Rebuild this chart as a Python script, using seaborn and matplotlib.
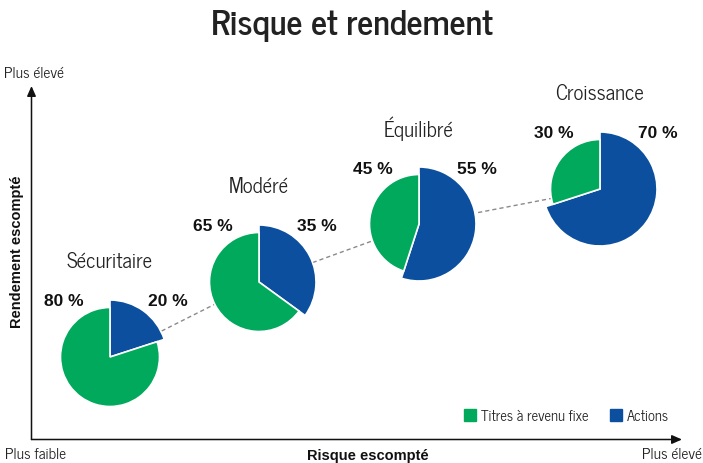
import matplotlib
matplotlib.use("Agg")
import matplotlib.pyplot as plt
from matplotlib.lines import Line2D
import seaborn as sns
import pandas as pd

# ---- data ----
profiles = ["Sécuritaire", "Modéré", "Équilibré", "Croissance"]
fixed_income = [80, 65, 45, 30]   # Titres à revenu fixe (%)
equities = [20, 35, 55, 70]       # Actions (%)
# position of each profile on the risk/return plane (figure layout units)
risk_pos = [110, 259, 419, 600]
return_pos = [106, 181, 239, 274]

title = "Risque et rendement"
x_label = "Risque escompté"
y_label = "Rendement escompté"
legend_labels = ["Titres à revenu fixe", "Actions"]

GREEN = "#00A95C"
BLUE = "#0B4F9E"

sns.set_theme(style="white")
FONT = ["News Cycle", "DejaVu Sans"]
ARIAL = ["Liberation Sans", "DejaVu Sans"]
plt.rcParams["font.family"] = FONT

fig = plt.figure(figsize=(7.03, 4.64), dpi=100)
ax = fig.add_axes([0, 0, 1, 1])
ax.set_xlim(0, 703)
ax.set_ylim(0, 464)
ax.axis("off")

# dashed trend line through profiles
df = pd.DataFrame({"risk": risk_pos, "ret": return_pos})
sns.lineplot(data=df, x="risk", y="ret", sort=False, ax=ax, color="#8a8a8a",
             linewidth=1.0, linestyle=(0, (3, 2.2)), zorder=1, legend=False)

R_GREEN = 49.5
R_BLUE = 57
for i, name in enumerate(profiles):
    cx, cy = risk_pos[i], return_pos[i]
    wedges, _ = ax.pie([equities[i], fixed_income[i]], colors=[BLUE, GREEN],
                       startangle=90, counterclock=False, center=(cx, cy),
                       radius=R_GREEN, frame=True,
                       wedgeprops=dict(edgecolor="white", linewidth=1.2))
    wedges[0].set_radius(R_BLUE)
    for w in wedges:
        w.set_zorder(3)
    ax.text(cx - 46, cy + 56, f"{fixed_income[i]} %", ha="center", va="center",
            fontsize=12.5, fontweight="bold", family=ARIAL, color="#111111", zorder=5)
    ax.text(cx + 58, cy + 56, f"{equities[i]} %", ha="center", va="center",
            fontsize=12.5, fontweight="bold", family=ARIAL, color="#111111", zorder=5)
    ax.text(cx, cy + 96, name, ha="center", va="center",
            fontsize=15, color="#222222", zorder=5)

ax.set_xlim(0, 703)
ax.set_ylim(0, 464)
ax.set_aspect("equal")
ax.axis("off")

# axes arrows
arrow = dict(arrowstyle="-|>,head_length=0.5,head_width=0.22", color="#111111",
             lw=1.1, shrinkA=0, shrinkB=0)
ax.annotate("", xy=(31.5, 377), xytext=(31.5, 23.5), arrowprops=arrow)
ax.annotate("", xy=(682, 23.5), xytext=(31.5, 23.5), arrowprops=arrow)

# texts
ax.text(352, 438, title, ha="center", va="center", fontsize=25,
        fontweight="bold", color="#222222")
ax.text(4, 390, "Plus élevé", ha="left", va="center", fontsize=11, color="#222222")
ax.text(5, 9, "Plus faible", ha="left", va="center", fontsize=11, color="#222222")
ax.text(702, 9, "Plus élevé", ha="right", va="center", fontsize=11, color="#222222")
ax.text(368, 8, x_label, ha="center", va="center", fontsize=10.5,
        fontweight="bold", family=ARIAL, color="#111111")
ax.text(17, 212, y_label, ha="center", va="center", rotation=90, fontsize=10.5,
        fontweight="bold", family=ARIAL, color="#111111")

handles = [Line2D([], [], marker="s", linestyle="none", markersize=8,
                  markerfacecolor=c, markeredgecolor=c) for c in (GREEN, BLUE)]
ax.legend(handles, legend_labels, loc="center", bbox_to_anchor=(566.5, 47),
          bbox_transform=ax.transData, ncol=2, frameon=False, fontsize=10.5,
          handletextpad=0.35, columnspacing=1.5, handlelength=0.8,
          labelcolor="#222222", borderpad=0, borderaxespad=0)

fig.savefig("out.png", dpi=100)
